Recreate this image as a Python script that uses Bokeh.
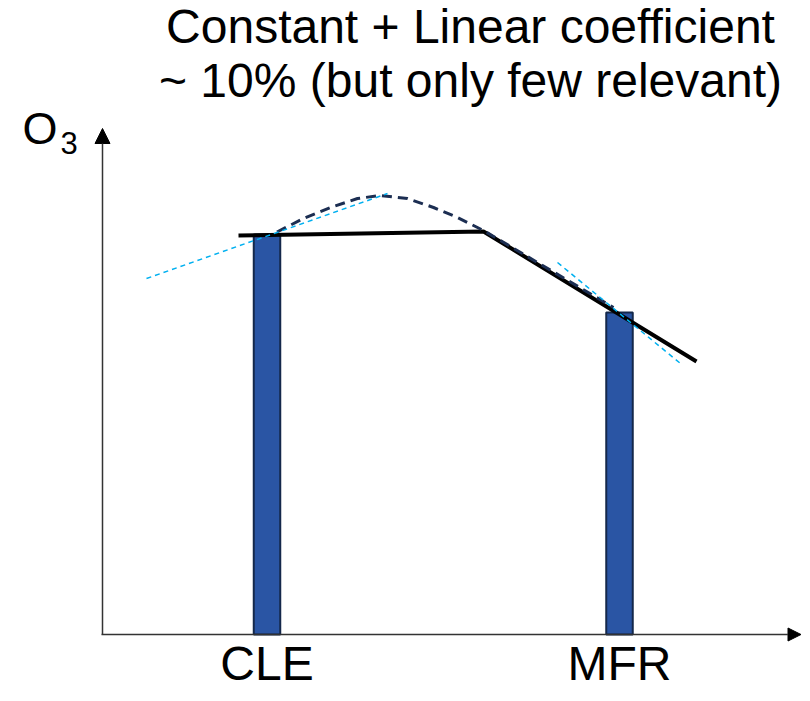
from bokeh.plotting import figure
from bokeh.models import Range1d, Arrow, NormalHead
from bokeh.core.properties import value
from bokeh.embed import file_html
from bokeh.resources import INLINE

# ---- data (schematic units) ----
categories = ["CLE", "MFR"]
bar_x = [3.29, 10.34]
bar_o3 = [8.00, 6.44]
bar_width = 0.53

# piecewise linear fit (constant + linear)
fit_x = [2.72, 7.62, 11.88]
fit_y = [7.98, 8.06, 5.46]

# "true" curve (dashed)
curve_x = [3.49, 4.02, 4.56, 5.10, 5.56, 6.10, 6.62, 7.10, 7.62, 10.22]
curve_y = [8.05, 8.32, 8.54, 8.72, 8.78, 8.72, 8.54, 8.34, 8.08, 6.54]

# local tangents at each site
tan1_x = [0.88, 5.70]
tan1_y = [7.12, 8.82]
tan2_x = [9.10, 11.56]
tan2_y = [7.44, 5.42]

title_lines = ["Constant + Linear coefficient", "~ 10% (but only few relevant)"]
y_label = "O"
y_label_sub = "3"

# axis extents
x_axis_end = 13.97
y_axis_end = 10.12

FONT = "Liberation Sans"

p = figure(width=802, height=693, output_backend="svg", toolbar_location=None,
           x_range=Range1d(-2.04, 14.0), y_range=Range1d(-1.18, 12.68),
           min_border=0, min_border_left=0, min_border_right=0,
           min_border_top=0, min_border_bottom=0)
p.axis.visible = False
p.grid.visible = False
p.outline_line_color = None
p.background_fill_color = "white"
p.border_fill_color = "white"

# bars
p.vbar(x=bar_x, top=bar_o3, bottom=0, width=bar_width,
       fill_color="#2A55A4", line_color="#14284B", line_width=2)

# axes with arrows
p.add_layout(Arrow(x_start=-0.02, y_start=0, x_end=x_axis_end, y_end=0,
                   line_color="#333333", line_width=1.5,
                   end=NormalHead(size=13, fill_color="black", line_color="black", line_width=1)))
p.add_layout(Arrow(x_start=0, y_start=0, x_end=0, y_end=y_axis_end,
                   line_color="#333333", line_width=1.5,
                   end=NormalHead(size=15, fill_color="black", line_color="black", line_width=1)))

# fit line
p.line(fit_x, fit_y, line_color="black", line_width=4)
# dashed curve
p.line(curve_x, curve_y, line_color="#1C2E52", line_width=3, line_dash="10 6")
# tangents
p.line(tan1_x, tan1_y, line_color="#00B0F0", line_width=1.5, line_dash="5 4")
p.line(tan2_x, tan2_y, line_color="#00B0F0", line_width=1.5, line_dash="5 4")

# title
p.text(x=[7.36, 7.36], y=[12.16, 11.08], text=title_lines,
       text_font=value(FONT), text_font_size="48px", text_color="black",
       text_align="center", text_baseline="alphabetic")

# category labels
p.text(x=bar_x, y=[-0.58, -0.58], text=categories,
       text_font=value(FONT), text_font_size="48px", text_color="black",
       text_align="center", text_baseline="alphabetic")

# y label O3
p.text(x=[-1.60], y=[10.12], text=[y_label],
       text_font=value(FONT), text_font_size="45px", text_color="black",
       text_align="left", text_baseline="alphabetic")
p.text(x=[-0.84], y=[9.84], text=[y_label_sub],
       text_font=value(FONT), text_font_size="31px", text_color="black",
       text_align="left", text_baseline="alphabetic")

open("out.html", "w").write(file_html(p, INLINE))
